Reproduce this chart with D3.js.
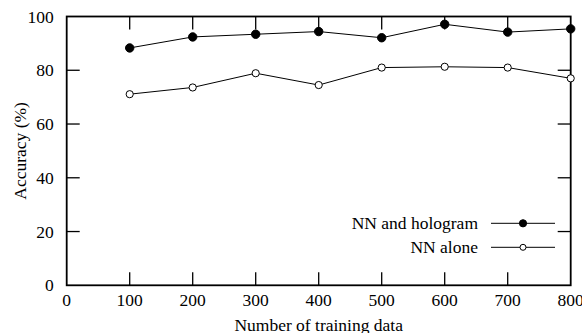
<!DOCTYPE html>
<html>
<head>
<meta charset="utf-8">
<script src="https://cdn.jsdelivr.net/npm/d3@7"></script>
<style>
  body { margin: 0; background: #fff; }
  svg { display: block; font-family: "Liberation Serif", "Times New Roman", serif; }
</style>
</head>
<body>
<div id="app"></div>
<script>
const trainingSizes = [100, 200, 300, 400, 500, 600, 700, 800];
const nnHologram = [88.3, 92.4, 93.4, 94.4, 92.1, 97.1, 94.2, 95.4];
const nnAlone = [71.1, 73.6, 78.9, 74.5, 81.0, 81.3, 81.0, 77.0];
const xTicks = [0, 100, 200, 300, 400, 500, 600, 700, 800];
const yTicks = [0, 20, 40, 60, 80, 100];

const width = 582;
const height = 333;
const margin = { top: 16.5, right: 11.3, bottom: 47.7, left: 66.7 };

const svg = d3.select('#app')
  .append('svg')
  .attr('width', width)
  .attr('height', height);

const x = d3.scaleLinear()
  .domain([0, 800])
  .range([margin.left, width - margin.right]);

const y = d3.scaleLinear()
  .domain([0, 100])
  .range([height - margin.bottom, margin.top]);

const tickLen = 13;
const fontSize = 17.5;

// mirrored inward ticks on all four sides
const tickG = svg.append('g').attr('stroke', '#000').attr('stroke-width', 1.3);
xTicks.slice(1, -1).forEach(t => {
  tickG.append('line').attr('x1', x(t)).attr('x2', x(t))
    .attr('y1', y(0)).attr('y2', y(0) - tickLen);
  tickG.append('line').attr('x1', x(t)).attr('x2', x(t))
    .attr('y1', y(100)).attr('y2', y(100) + tickLen);
});
yTicks.slice(1, -1).forEach(t => {
  tickG.append('line').attr('x1', x(0)).attr('x2', x(0) + tickLen)
    .attr('y1', y(t)).attr('y2', y(t));
  tickG.append('line').attr('x1', x(800)).attr('x2', x(800) - tickLen)
    .attr('y1', y(t)).attr('y2', y(t));
});

// frame
svg.append('rect')
  .attr('x', x(0)).attr('y', y(100))
  .attr('width', x(800) - x(0)).attr('height', y(0) - y(100))
  .attr('fill', 'none').attr('stroke', '#000').attr('stroke-width', 1.8);

// tick labels
svg.append('g').selectAll('text')
  .data(xTicks)
  .join('text')
  .attr('x', d => x(d))
  .attr('y', y(0) + 20.5)
  .attr('text-anchor', 'middle')
  .attr('font-size', fontSize)
  .text(d => d);

svg.append('g').selectAll('text')
  .data(yTicks)
  .join('text')
  .attr('x', x(0) - 13)
  .attr('y', d => y(d))
  .attr('dy', '0.35em')
  .attr('text-anchor', 'end')
  .attr('font-size', fontSize)
  .text(d => d);

// axis titles
svg.append('text')
  .attr('x', (x(0) + x(800)) / 2)
  .attr('y', 331)
  .attr('text-anchor', 'middle')
  .attr('font-size', fontSize)
  .text('Number of training data');

svg.append('text')
  .attr('transform', `translate(26,${(y(0) + y(100)) / 2}) rotate(-90)`)
  .attr('text-anchor', 'middle')
  .attr('font-size', fontSize)
  .text('Accuracy (%)');

// series
const line = d3.line()
  .x((d, i) => x(trainingSizes[i]))
  .y(d => y(d));

const series = [
  { name: 'NN and hologram', values: nnHologram, fill: '#000', r: 4.2 },
  { name: 'NN alone', values: nnAlone, fill: '#fff', r: 3.6 }
];

series.forEach(s => {
  svg.append('path')
    .datum(s.values)
    .attr('d', line)
    .attr('fill', 'none')
    .attr('stroke', '#000')
    .attr('stroke-width', 1);
  svg.append('g').selectAll('circle')
    .data(s.values)
    .join('circle')
    .attr('cx', (d, i) => x(trainingSizes[i]))
    .attr('cy', d => y(d))
    .attr('r', s.r)
    .attr('fill', s.fill)
    .attr('stroke', '#000')
    .attr('stroke-width', 1);
});

// legend
const legend = svg.append('g');
series.forEach((s, i) => {
  const ly = 223.3 + i * 24;
  legend.append('text')
    .attr('x', 478)
    .attr('y', ly)
    .attr('dy', '0.33em')
    .attr('text-anchor', 'end')
    .attr('font-size', fontSize)
    .text(s.name);
  legend.append('line')
    .attr('x1', 491).attr('x2', 555)
    .attr('y1', ly).attr('y2', ly)
    .attr('stroke', '#000').attr('stroke-width', 1);
  legend.append('circle')
    .attr('cx', 523).attr('cy', ly)
    .attr('r', s.r - 0.6)
    .attr('fill', s.fill)
    .attr('stroke', '#000')
    .attr('stroke-width', 1);
});
</script>
</body>
</html>
